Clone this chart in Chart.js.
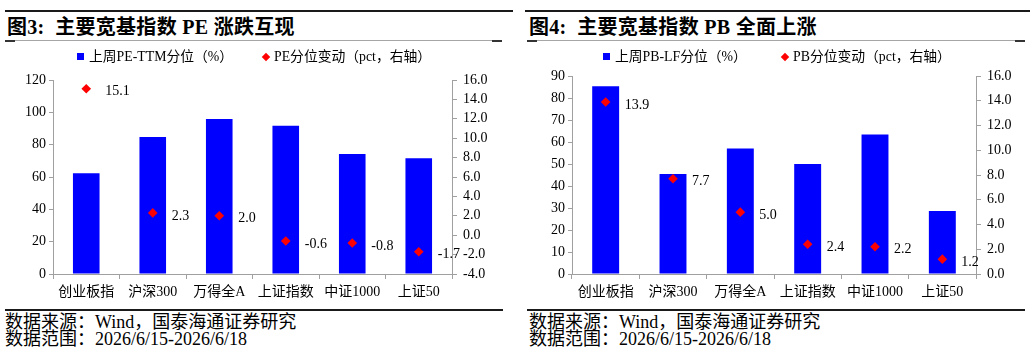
<!DOCTYPE html>
<html><head><meta charset="utf-8">
<script src="https://cdn.jsdelivr.net/npm/chart.js@4"></script>
<style>
body{margin:0;width:1034px;height:357px;background:#fff;position:relative;overflow:hidden;font-family:"Liberation Serif","Noto Sans CJK SC",serif;color:#000}
.abs{position:absolute}
.thick{height:2px;background:#1a1a1a}
.gray{height:1px;background:#a6a6a6}
.tk{height:2px;background:#333;width:10px}
.title{font-size:20px;font-weight:bold;white-space:nowrap;line-height:24px}
.legend{font-size:13.8px;white-space:nowrap;line-height:16px}
.foot{font-size:18px;white-space:nowrap;line-height:20px}
.sq{display:inline-block;width:7px;height:7px;background:#0000ff;margin-right:5px;vertical-align:1px}
.dm{display:inline-block;width:6px;height:6px;background:#ff0000;transform:rotate(45deg);margin-right:5px;vertical-align:1px}
canvas{position:absolute}
</style></head><body>

<div class="abs thick" style="left:5px;top:10px;width:508px"></div>
<div class="abs title" style="left:7px;top:15px;letter-spacing:0.3px">图3:&nbsp;&nbsp;主要宽基指数 PE 涨跌互现</div>
<div class="abs gray" style="left:5px;top:40px;width:497px"></div>
<div class="abs tk" style="left:5px;top:40px"></div>
<div class="abs tk" style="left:492px;top:40px"></div>

<div class="abs thick" style="left:525px;top:10px;width:505px"></div>
<div class="abs title" style="left:529px;top:15px;letter-spacing:0.3px">图4:&nbsp;&nbsp;主要宽基指数 PB 全面上涨</div>
<div class="abs gray" style="left:527px;top:40px;width:498px"></div>
<div class="abs tk" style="left:527px;top:40px"></div>
<div class="abs tk" style="left:1015px;top:40px"></div>

<canvas id="c1" width="517" height="260" style="left:0;top:45px"></canvas>
<canvas id="c2" width="517" height="260" style="left:517px;top:45px"></canvas>

<div class="abs legend" style="left:77px;top:49px"><span class="sq"></span>上周PE-TTM分位（%）</div>
<div class="abs legend" style="left:263px;top:49px"><span class="dm"></span>PE分位变动（pct，右轴）</div>
<div class="abs legend" style="left:603px;top:49px"><span class="sq"></span>上周PB-LF分位（%）</div>
<div class="abs legend" style="left:782px;top:49px"><span class="dm"></span>PB分位变动（pct，右轴）</div>

<div class="abs thick" style="left:5px;top:309px;width:498px"></div>
<div class="abs foot" style="left:5px;top:312px">数据来源：Wind，国泰海通证券研究</div>
<div class="abs foot" style="left:5px;top:329px">数据范围：2026/6/15-2026/6/18</div>

<div class="abs thick" style="left:527px;top:309px;width:498px"></div>
<div class="abs foot" style="left:529px;top:312px">数据来源：Wind，国泰海通证券研究</div>
<div class="abs foot" style="left:529px;top:329px">数据范围：2026/6/15-2026/6/18</div>

<script>
const categories = ['创业板指', '沪深300', '万得全A', '上证指数', '中证1000', '上证50'];
const pePercentile = [62.3, 84.7, 95.9, 91.7, 74.2, 71.6];
const peChange = [15.1, 2.3, 2.0, -0.6, -0.8, -1.7];
const pbPercentile = [85.3, 45.4, 57.0, 50.0, 63.4, 28.6];
const pbChange = [13.9, 7.7, 5.0, 2.4, 2.2, 1.2];

const FONT = '"Liberation Serif","Noto Sans CJK SC",serif';
const AXIS = '#a0a0a0';

const valueLabels = {
  id: 'valueLabels',
  afterDatasetsDraw(chart) {
    const ctx = chart.ctx;
    const meta = chart.getDatasetMeta(0);
    const data = chart.data.datasets[0].data;
    ctx.save();
    ctx.font = '14px ' + FONT;
    ctx.fillStyle = '#000';
    ctx.textAlign = 'left';
    ctx.textBaseline = 'middle';
    meta.data.forEach((pt, i) => {
      ctx.fillText(data[i].toFixed(1), pt.x + 19, pt.y + 3);
    });
    ctx.restore();
  }
};

function makeChart(id, barLabel, lineLabel, bars, changes, left, right, leftW, rightW, topPad) {
  new Chart(document.getElementById(id), {
    data: {
      labels: categories,
      datasets: [
        {
          type: 'line', label: lineLabel, data: changes, yAxisID: 'y1',
          showLine: false, pointStyle: 'rectRot', pointRadius: 4.8,
          pointBackgroundColor: '#ff0000', pointBorderColor: '#ff0000', pointBorderWidth: 0,
          order: 1
        },
        {
          type: 'bar', label: barLabel, data: bars, yAxisID: 'y',
          backgroundColor: '#0000ff', borderWidth: 0,
          categoryPercentage: 1, barPercentage: 0.4, order: 2
        }
      ]
    },
    options: {
      responsive: false, animation: false,
      layout: { padding: { top: topPad, left: 0, right: 0, bottom: 0 } },
      plugins: { legend: { display: false }, tooltip: { enabled: false } },
      scales: {
        x: {
          type: 'category', offset: true,
          grid: { offset: true, drawOnChartArea: false, drawTicks: true, tickLength: 5, color: AXIS },
          border: { color: AXIS },
          ticks: { color: '#000', font: { family: FONT, size: 14 }, padding: 5, maxRotation: 0, autoSkip: false },
          afterFit(s) { s.height = 31; }
        },
        y: {
          position: 'left', min: left.min, max: left.max,
          ticks: { stepSize: left.step, autoSkip: false, color: '#000', font: { family: FONT, size: 14 }, padding: 3 },
          grid: { drawOnChartArea: false, tickLength: 4, color: AXIS },
          border: { color: AXIS },
          afterFit(s) { s.width = leftW; }
        },
        y1: {
          position: 'right', min: right.min, max: right.max,
          ticks: { stepSize: right.step, autoSkip: false, color: '#000', font: { family: FONT, size: 14 }, padding: 6,
                   callback: v => Number(v).toFixed(1) },
          grid: { drawOnChartArea: false, tickLength: 5, color: AXIS },
          border: { color: AXIS },
          afterFit(s) { s.width = rightW; }
        }
      }
    },
    plugins: [valueLabels]
  });
}

makeChart('c1', '上周PE-TTM分位（%）', 'PE分位变动（pct，右轴）', pePercentile, peChange,
  { min: 0, max: 120, step: 20 }, { min: -4, max: 16, step: 2 }, 53, 65, 35);
makeChart('c2', '上周PB-LF分位（%）', 'PB分位变动（pct，右轴）', pbPercentile, pbChange,
  { min: 0, max: 90, step: 10 }, { min: 0, max: 16, step: 2 }, 55, 58, 31);
</script>
</body></html>
